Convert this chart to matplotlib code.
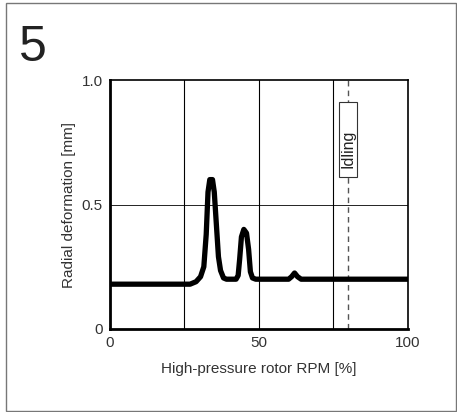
import numpy as np
import matplotlib.pyplot as plt
from matplotlib.patches import Rectangle

plt.rcParams['font.family'] = ['Liberation Sans', 'DejaVu Sans']

# curve
rpm = [0, 27, 29, 30.5, 31.6, 32.4, 33.0, 33.6, 34.5, 35.1, 35.8, 36.5, 37.2, 38.2, 39.2,
       42.4, 43.1, 43.6, 44.2, 45.0, 45.9, 46.6, 47.2, 47.9, 49.0,
       60.0, 61.0, 62.0, 63.0, 64.2, 100]
deform = [0.18, 0.18, 0.19, 0.21, 0.25, 0.38, 0.55, 0.60, 0.60, 0.55, 0.42, 0.29, 0.235, 0.205, 0.20,
          0.20, 0.215, 0.28, 0.37, 0.40, 0.385, 0.32, 0.23, 0.205, 0.20,
          0.20, 0.21, 0.225, 0.21, 0.20, 0.20]

grid_x = [25, 50, 75]
grid_y = [0.5]
idle_x = 80
idle_box = [0.612, 0.913]  # bottom, top of the label box
xticks = [0, 50, 100]
yticks = [0, 0.5, 1.0]
yticklabels = ["0", "0.5", "1.0"]

fig = plt.figure(figsize=[4.57, 4.12], dpi=100)
fig.patches.append(Rectangle((6/457, 1/412), 450/457, 408/412, transform=fig.transFigure,
                             fill=False, edgecolor="#777777", lw=1.0))
fig.text(19/457, 1 - 61/412, "5", fontsize=36, color="#222222")

ax = fig.add_axes([109.5/457, 83/412, 298.5/457, 249/412])
for gx in grid_x:
    ax.axvline(gx, color="k", lw=0.8, zorder=1)
for gy in grid_y:
    ax.axhline(gy, color="k", lw=0.6, zorder=1)
ax.axvline(idle_x, color="#555555", lw=1.0, ls=(0, (4, 3)), zorder=1)

ax.add_patch(Rectangle((idle_x - 3.0, idle_box[0]), 6.0, idle_box[1] - idle_box[0],
                       fc="white", ec="#333333", lw=0.8, zorder=3))
ax.text(idle_x, 0.722, "Idling", rotation=90, ha="center", va="center", fontsize=11.5,
        color="#222222", zorder=4)

ax.plot(rpm, deform, "k-", lw=3.8, solid_joinstyle="round", solid_capstyle="butt", zorder=5)

ax.set_xlim(0, 100)
ax.set_ylim(0, 1.0)
ax.set_xticks(xticks)
ax.set_yticks(yticks)
ax.set_yticklabels(yticklabels)
ax.tick_params(length=0, labelsize=11, labelcolor="#333333", pad=5)
for s in ["left", "bottom"]:
    ax.spines[s].set_linewidth(2.0)
for s in ["top", "right"]:
    ax.spines[s].set_linewidth(1.2)
ax.set_xlabel("High-pressure rotor RPM [%]", fontsize=11, color="#333333", labelpad=9)
ax.set_ylabel("Radial deformation [mm]", fontsize=11, color="#333333", labelpad=4)

fig.savefig("out.png", dpi=100)
